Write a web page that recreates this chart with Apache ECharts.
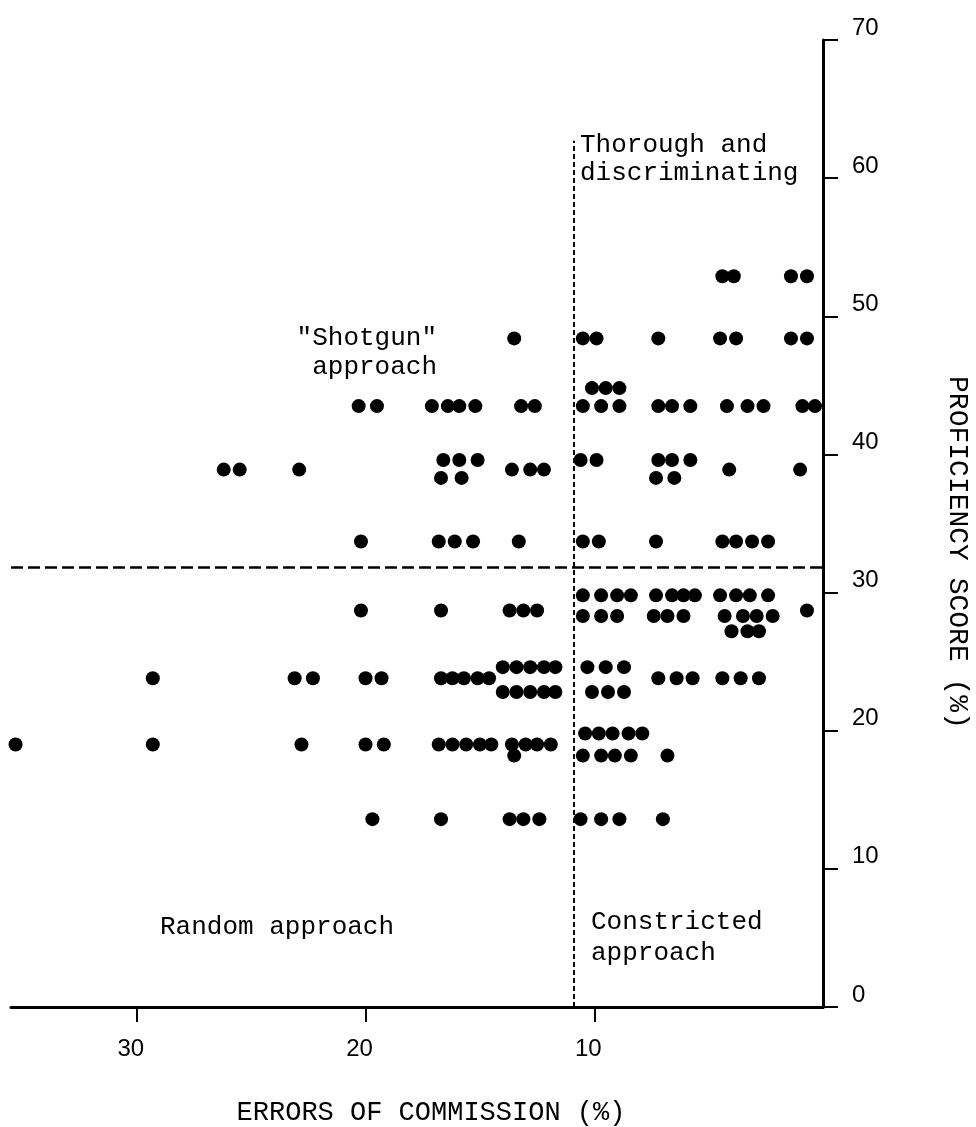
<!DOCTYPE html>
<html>
<head>
<meta charset="utf-8">
<title>Proficiency score vs errors of commission</title>
<script src="https://cdn.jsdelivr.net/npm/echarts@6.0.0/dist/echarts.min.js"></script>
<style>
  html, body { margin: 0; padding: 0; background: #fff; }
  #chart { width: 976px; height: 1127px; }
</style>
</head>
<body>
<div id="chart"></div>
<script>
// proficiency score (%) of each row of dots, top to bottom
var scoreRows = [52.9, 48.4, 44.8, 43.5, 39.6, 38.9, 38.3, 33.7, 29.8, 28.7,
                 28.3, 27.2, 24.6, 23.8, 22.8, 19.8, 19.0, 18.2, 13.6];

// errors of commission (%) of the dots in each row
var errorRows = [
  [4.4, 3.9, 1.4, 0.7],
  [13.5, 10.5, 9.9, 7.2, 4.5, 3.8, 1.4, 0.7],
  [10.1, 9.5, 8.9],
  [20.3, 19.5, 17.1, 16.4, 15.9, 15.2, 13.2, 12.6, 10.5, 9.7, 8.9, 7.2, 6.6, 5.8, 4.2, 3.3, 2.6, 0.9, 0.35],
  [16.6, 15.9, 15.1, 10.6, 9.9, 7.2, 6.6, 5.8],
  [26.2, 25.5, 22.9, 13.6, 12.8, 12.2, 4.1, 1.0],
  [16.7, 15.8, 7.3, 6.5],
  [20.2, 16.8, 16.1, 15.3, 13.3, 10.5, 9.8, 7.3, 4.4, 3.8, 3.1, 2.4],
  [10.5, 9.7, 9.0, 8.4, 7.3, 6.6, 6.1, 5.6, 4.5, 3.8, 3.2, 2.4],
  [20.2, 16.7, 13.7, 13.1, 12.5, 0.7],
  [10.5, 9.7, 9.0, 7.4, 6.8, 6.1, 4.3, 3.5, 2.9, 2.2],
  [4.0, 3.3, 2.8],
  [14.0, 13.4, 12.8, 12.2, 11.7, 10.3, 9.5, 8.7],
  [29.3, 23.1, 22.3, 20.0, 19.3, 16.7, 16.2, 15.7, 15.1, 14.6, 7.2, 6.4, 5.7, 4.4, 3.6, 2.8],
  [14.0, 13.4, 12.8, 12.2, 11.7, 10.1, 9.4, 8.7],
  [10.4, 9.8, 9.2, 8.5, 7.9],
  [35.3, 29.3, 22.8, 20.0, 19.2, 16.8, 16.2, 15.6, 15.0, 14.5, 13.6, 13.0, 12.5, 11.9],
  [13.5, 10.5, 9.7, 9.1, 8.4, 6.8],
  [19.7, 16.7, 13.7, 13.1, 12.4, 10.6, 9.7, 8.9, 7.0]
];

var xTicks = [10, 20, 30];
var yTicks = [0, 10, 20, 30, 40, 50, 60, 70];

// dashed dividers between the four approaches
var cutErrors = 10.9;
var cutErrorsTop = 62.7;
var cutScore = 31.8;

var points = [];
for (var i = 0; i < scoreRows.length; i++) {
  for (var j = 0; j < errorRows[i].length; j++) {
    points.push([errorRows[i][j], scoreRows[i]]);
  }
}

var mono = '"Liberation Mono", "DejaVu Sans Mono", monospace';
var sans = '"Liberation Sans", Arial, sans-serif';

var chart = echarts.init(document.getElementById('chart'));
chart.setOption({
  animation: false,
  backgroundColor: '#fff',
  grid: { left: 11, right: 153, top: 40, bottom: 120, containLabel: false, outerBoundsMode: 'none' },
  xAxis: {
    type: 'value',
    inverse: true,
    min: 0,
    max: 35.5,
    interval: 10,
    splitLine: { show: false },
    axisLine: { show: true, onZero: false, lineStyle: { color: '#000', width: 3 } },
    axisTick: { show: true, customValues: xTicks, length: 15, lineStyle: { color: '#000', width: 2 } },
    axisLabel: {
      customValues: xTicks,
      color: '#000',
      fontFamily: sans,
      fontSize: 24,
      margin: 30,
      padding: [0, 12, 0, 0]
    },
    name: 'ERRORS OF COMMISSION (%)',
    nameLocation: 'middle',
    nameGap: 92,
    nameTextStyle: { color: '#000', fontFamily: mono, fontSize: 27, padding: [0, 0, 0, 28] }
  },
  yAxis: {
    type: 'value',
    position: 'right',
    min: 0,
    max: 70,
    interval: 10,
    splitLine: { show: false },
    axisLine: { show: true, lineStyle: { color: '#000', width: 3 } },
    axisTick: { show: true, customValues: yTicks, length: 15, lineStyle: { color: '#000', width: 2 } },
    axisLabel: {
      customValues: yTicks,
      color: '#000',
      fontFamily: sans,
      fontSize: 24,
      margin: 29,
      verticalAlign: 'bottom'
    },
    name: 'PROFICIENCY SCORE (%)',
    nameLocation: 'middle',
    nameRotate: -90,
    nameGap: 120,
    nameTextStyle: { color: '#000', fontFamily: mono, fontSize: 28, padding: [0, 0, 0, 58] }
  },
  graphic: [
    {
      type: 'text', x: 580, y: 131,
      style: { text: 'Thorough and\ndiscriminating', font: '26px ' + mono, lineHeight: 28, fill: '#000' }
    },
    {
      type: 'text', x: 437, y: 324,
      style: { text: '"Shotgun"\napproach', font: '26px ' + mono, lineHeight: 29, fill: '#000', align: 'right' }
    },
    {
      type: 'text', x: 160, y: 913,
      style: { text: 'Random approach', font: '26px ' + mono, lineHeight: 28, fill: '#000' }
    },
    {
      type: 'text', x: 591, y: 907,
      style: { text: 'Constricted\napproach', font: '26px ' + mono, lineHeight: 31, fill: '#000' }
    }
  ],
  series: [{
    type: 'scatter',
    data: points,
    symbol: 'circle',
    symbolSize: 14,
    itemStyle: { color: '#000', opacity: 1 },
    markLine: {
      silent: true,
      symbol: 'none',
      label: { show: false },
      emphasis: { disabled: true },
      data: [
        [
          { coord: [cutErrors, 0], lineStyle: { color: '#000', width: 2, type: [5, 3] } },
          { coord: [cutErrors, cutErrorsTop] }
        ],
        [
          { coord: [35.5, cutScore], lineStyle: { color: '#000', width: 2.5, type: [12, 5] } },
          { coord: [0, cutScore] }
        ]
      ]
    }
  }]
});
window.onresize = chart.resize;
</script>
</body>
</html>
